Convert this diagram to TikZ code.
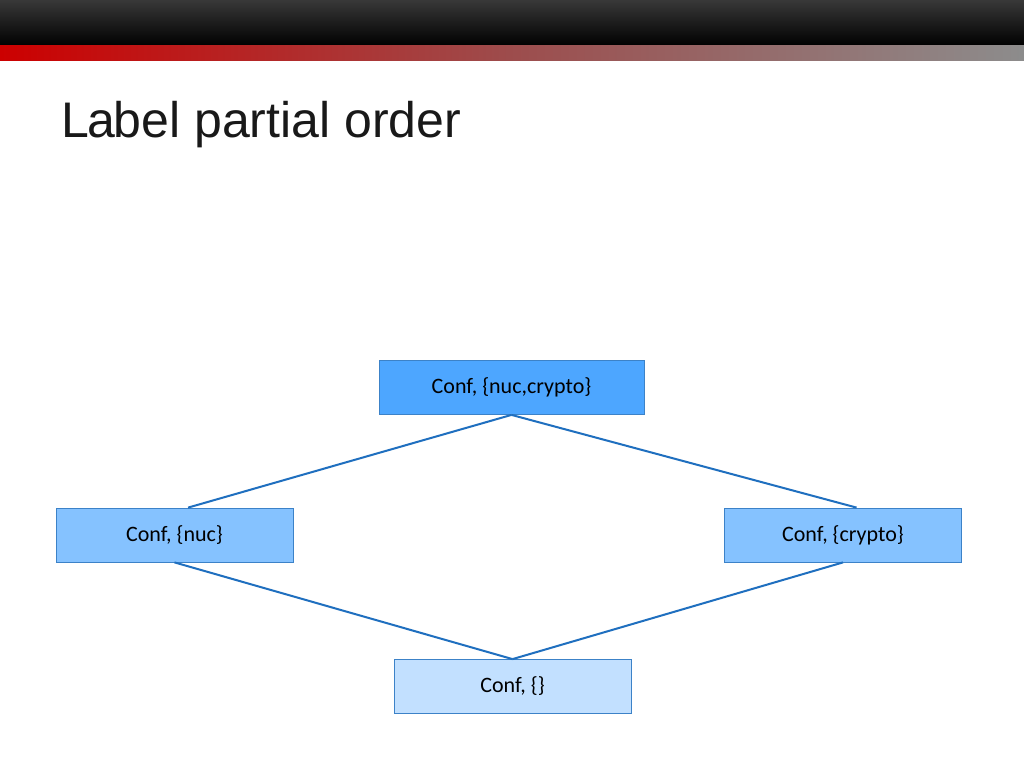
\documentclass[tikz,border=0pt]{standalone}
\usepackage{fontspec}
\setmainfont{Carlito}
\newfontfamily\titlefont{Liberation Sans}
\usetikzlibrary{calc}
\definecolor{edgeblue}{HTML}{1F6FBF}
\definecolor{boxborder}{HTML}{3C82C8}
\definecolor{topfill}{HTML}{4DA6FF}
\definecolor{midfill}{HTML}{85C2FF}
\definecolor{botfill}{HTML}{C2E0FF}
\begin{document}
\begin{tikzpicture}[x=1pt,y=-1pt,
  box/.style={draw=boxborder,line width=0.8pt,minimum height=54pt,inner sep=0pt,font=\fontsize{22}{24}\selectfont},
  edge/.style={draw=edgeblue,line width=2pt}]
\useasboundingbox (0,0) rectangle (1024,768);
\fill[white] (0,0) rectangle (1024,768);
\shade[top color=black!78,bottom color=black] (0,0) rectangle (1024,46);
\shade[left color=red!80!black,right color=black!45,middle color=red!45!black!70] (0,46) rectangle (1024,60);
\node[anchor=base west,inner sep=0pt,font=\titlefont\fontsize{50}{52}\selectfont,text=black!90] (title) at (62,137) {\kern-1pt L\kern-1.5pt a\kern-1.5pt bel partial order};
\node[box,fill=topfill,minimum width=265pt] (t) at (511.5,387.5) {Conf, \{nuc,crypto\}};
\node[box,fill=midfill,minimum width=237pt] (l) at (174.5,535) {Conf, \{nuc\}};
\node[box,fill=midfill,minimum width=237pt] (r) at (843,535) {Conf, \{crypto\}};
\node[box,fill=botfill,minimum width=237pt] (b) at (512.5,686.5) {Conf, \{\}};
\draw[edge] (t.south) -- ($(l.north west)!0.557!(l.north east)$);
\draw[edge] (t.south) -- ($(r.north west)!0.557!(r.north east)$);
\draw[edge] (l.south) -- (b.north);
\draw[edge] (r.south) -- (b.north);
\end{tikzpicture}
\end{document}
